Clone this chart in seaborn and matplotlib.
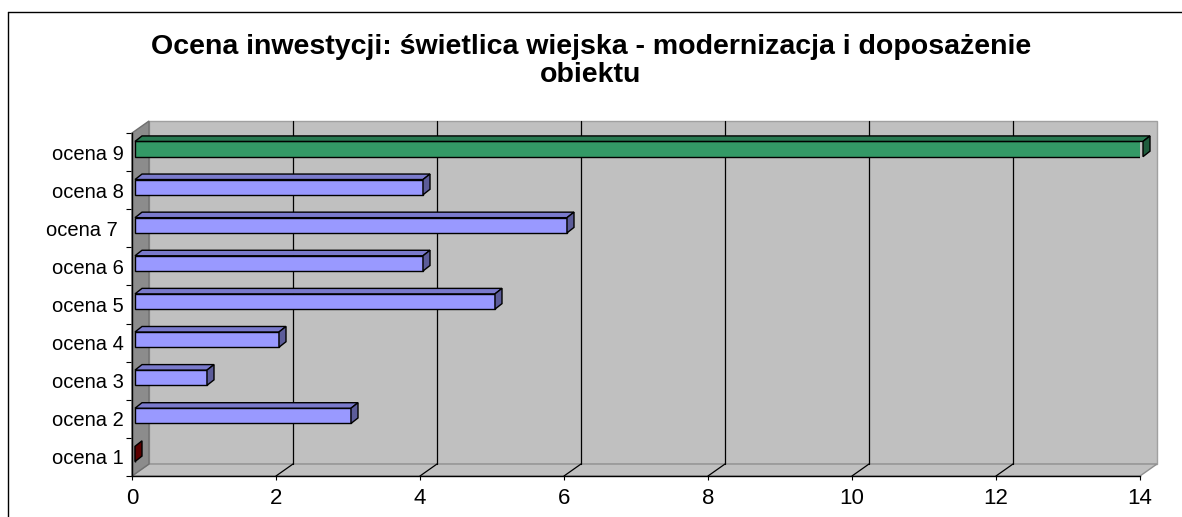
import matplotlib
matplotlib.use("Agg")
import matplotlib.pyplot as plt
import matplotlib.transforms as mtransforms
from matplotlib.patches import Polygon
from matplotlib.lines import Line2D
import seaborn as sns

# data
categories = ["ocena 1", "ocena 2", "ocena 3", "ocena 4", "ocena 5",
              "ocena 6", "ocena 7 ", "ocena 8", "ocena 9"]
values = [0, 3, 1, 2, 5, 4, 6, 4, 14]
front_colors = ["#990000", "#9999ff", "#9999ff", "#9999ff", "#9999ff",
                "#9999ff", "#9999ff", "#9999ff", "#339966"]
title = "Ocena inwestycji: świetlica wiejska - modernizacja i doposażenie\nobiektu"

DEPTH = (17, 12)      # pixel offset of back wall
BAR_FRONT = (3, 3)    # pixel offset of bar front face
BAR_DEPTH = (7, 5.5)  # pixel depth of bars


def shade(color, f):
    r, g, b = matplotlib.colors.to_rgb(color)
    return (r * f, g * f, b * f)


def main():
    sns.set_theme(style="white")
    plt.rcParams["font.family"] = ["Liberation Sans", "DejaVu Sans"]
    plt.rcParams["text.color"] = "black"
    plt.rcParams["xtick.color"] = "black"
    plt.rcParams["ytick.color"] = "black"

    fig = plt.figure(figsize=(11.82, 5.17), dpi=100)
    ax = fig.add_axes([132 / 1182, 1 - 476 / 517, 1008 / 1182, 343 / 517])
    ax.set_facecolor("none")

    order = categories[::-1]
    palette = dict(zip(categories, front_colors))
    sns.barplot(x=values, y=categories, hue=categories, order=order,
                palette=palette, orient="y", width=0.4, legend=False,
                edgecolor="black", linewidth=1.0, saturation=1, ax=ax)
    ax.set_xlim(0, 14)
    ax.set_ylim(8.5, -0.5)

    ident = mtransforms.IdentityTransform()

    def pt(x, y, d=(0, 0)):
        px, py = ax.transData.transform((x, y))
        return (px + d[0], py + d[1])

    def poly(pts, fc, ec, z, lw=1.0):
        ax.add_patch(Polygon(pts, closed=True, facecolor=fc, edgecolor=ec,
                             linewidth=lw, transform=ident, clip_on=False,
                             zorder=z))

    y_bot, y_top = 8.5, -0.5
    # back wall, floor, left wall
    poly([pt(0, y_bot, DEPTH), pt(14, y_bot, DEPTH), pt(14, y_top, DEPTH),
          pt(0, y_top, DEPTH)], "#c0c0c0", "#a0a0a0", 0.5)
    poly([pt(0, y_bot), pt(14, y_bot), pt(14, y_bot, DEPTH),
          pt(0, y_bot, DEPTH)], "#c0c0c0", "#909090", 0.6)
    poly([pt(0, y_bot), pt(0, y_top), pt(0, y_top, DEPTH),
          pt(0, y_bot, DEPTH)], "#8c8c8c", "#707070", 0.6)

    # gridlines on back wall and floor
    for gx in range(2, 14, 2):
        a, b = pt(gx, y_bot, DEPTH), pt(gx, y_top, DEPTH)
        ax.add_line(Line2D([a[0], b[0]], [a[1], b[1]], color="black",
                           linewidth=0.9, transform=ident, zorder=0.7,
                           clip_on=False))
        c = pt(gx, y_bot)
        ax.add_line(Line2D([c[0], a[0]], [c[1], a[1]], color="black",
                           linewidth=0.9, transform=ident, zorder=0.7,
                           clip_on=False))

    # 3D bars: shift seaborn faces and add top / side faces
    off = mtransforms.ScaledTranslation(BAR_FRONT[0] / 100, BAR_FRONT[1] / 100,
                                        fig.dpi_scale_trans)
    for bar in ax.patches[:len(values)]:
        fc = bar.get_facecolor()
        bar.set_transform(ax.transData + off)
        bar.set_zorder(3)
        x0, y0 = bar.get_x(), bar.get_y()
        w, h = bar.get_width(), bar.get_height()
        tl = pt(x0, y0)
        tr = pt(x0 + w, y0)
        br = pt(x0 + w, y0 + h)
        f = BAR_FRONT
        tl = (tl[0] + f[0], tl[1] + f[1])
        tr = (tr[0] + f[0], tr[1] + f[1])
        br = (br[0] + f[0], br[1] + f[1])
        d = BAR_DEPTH
        if w > 0:
            poly([tl, tr, (tr[0] + d[0], tr[1] + d[1]),
                  (tl[0] + d[0], tl[1] + d[1])], shade(fc, 0.8), "black", 3.1)
        poly([tr, br, (br[0] + d[0], br[1] + d[1]),
              (tr[0] + d[0], tr[1] + d[1])], shade(fc, 0.6), "black", 3.2)

    # axes styling
    for s in ["top", "right"]:
        ax.spines[s].set_visible(False)
    for s in ["left", "bottom"]:
        ax.spines[s].set_color("black")
        ax.spines[s].set_linewidth(1.0)
        ax.spines[s].set_zorder(4)
    ax.grid(False)
    ax.set_xticks(range(0, 15, 2))
    ax.tick_params(axis="x", direction="out", length=3, width=0.8,
                   color="black", labelsize=16, pad=6, bottom=True)
    ax.set_yticks([i - 0.5 for i in range(10)], minor=True)
    ax.tick_params(axis="y", which="minor", direction="out", length=4,
                   width=0.8, color="black", left=True)
    ax.tick_params(axis="y", which="major", length=0, labelsize=14.5, pad=6)
    ax.set_xlabel("")
    ax.set_ylabel("")

    fig.text(0.5, 1 - 34 / 517, title, ha="center", va="top", fontsize=20.5,
             fontweight="bold", linespacing=1.1)

    # outer chart border
    fig.add_artist(Line2D([7.5 / 1182, 7.5 / 1182], [0, 1 - 11.5 / 517],
                          color="black", linewidth=1.0))
    fig.add_artist(Line2D([7.5 / 1182, 1], [1 - 11.5 / 517, 1 - 11.5 / 517],
                          color="black", linewidth=1.0))

    fig.savefig("out.png", dpi=100)


if __name__ == "__main__":
    main()
